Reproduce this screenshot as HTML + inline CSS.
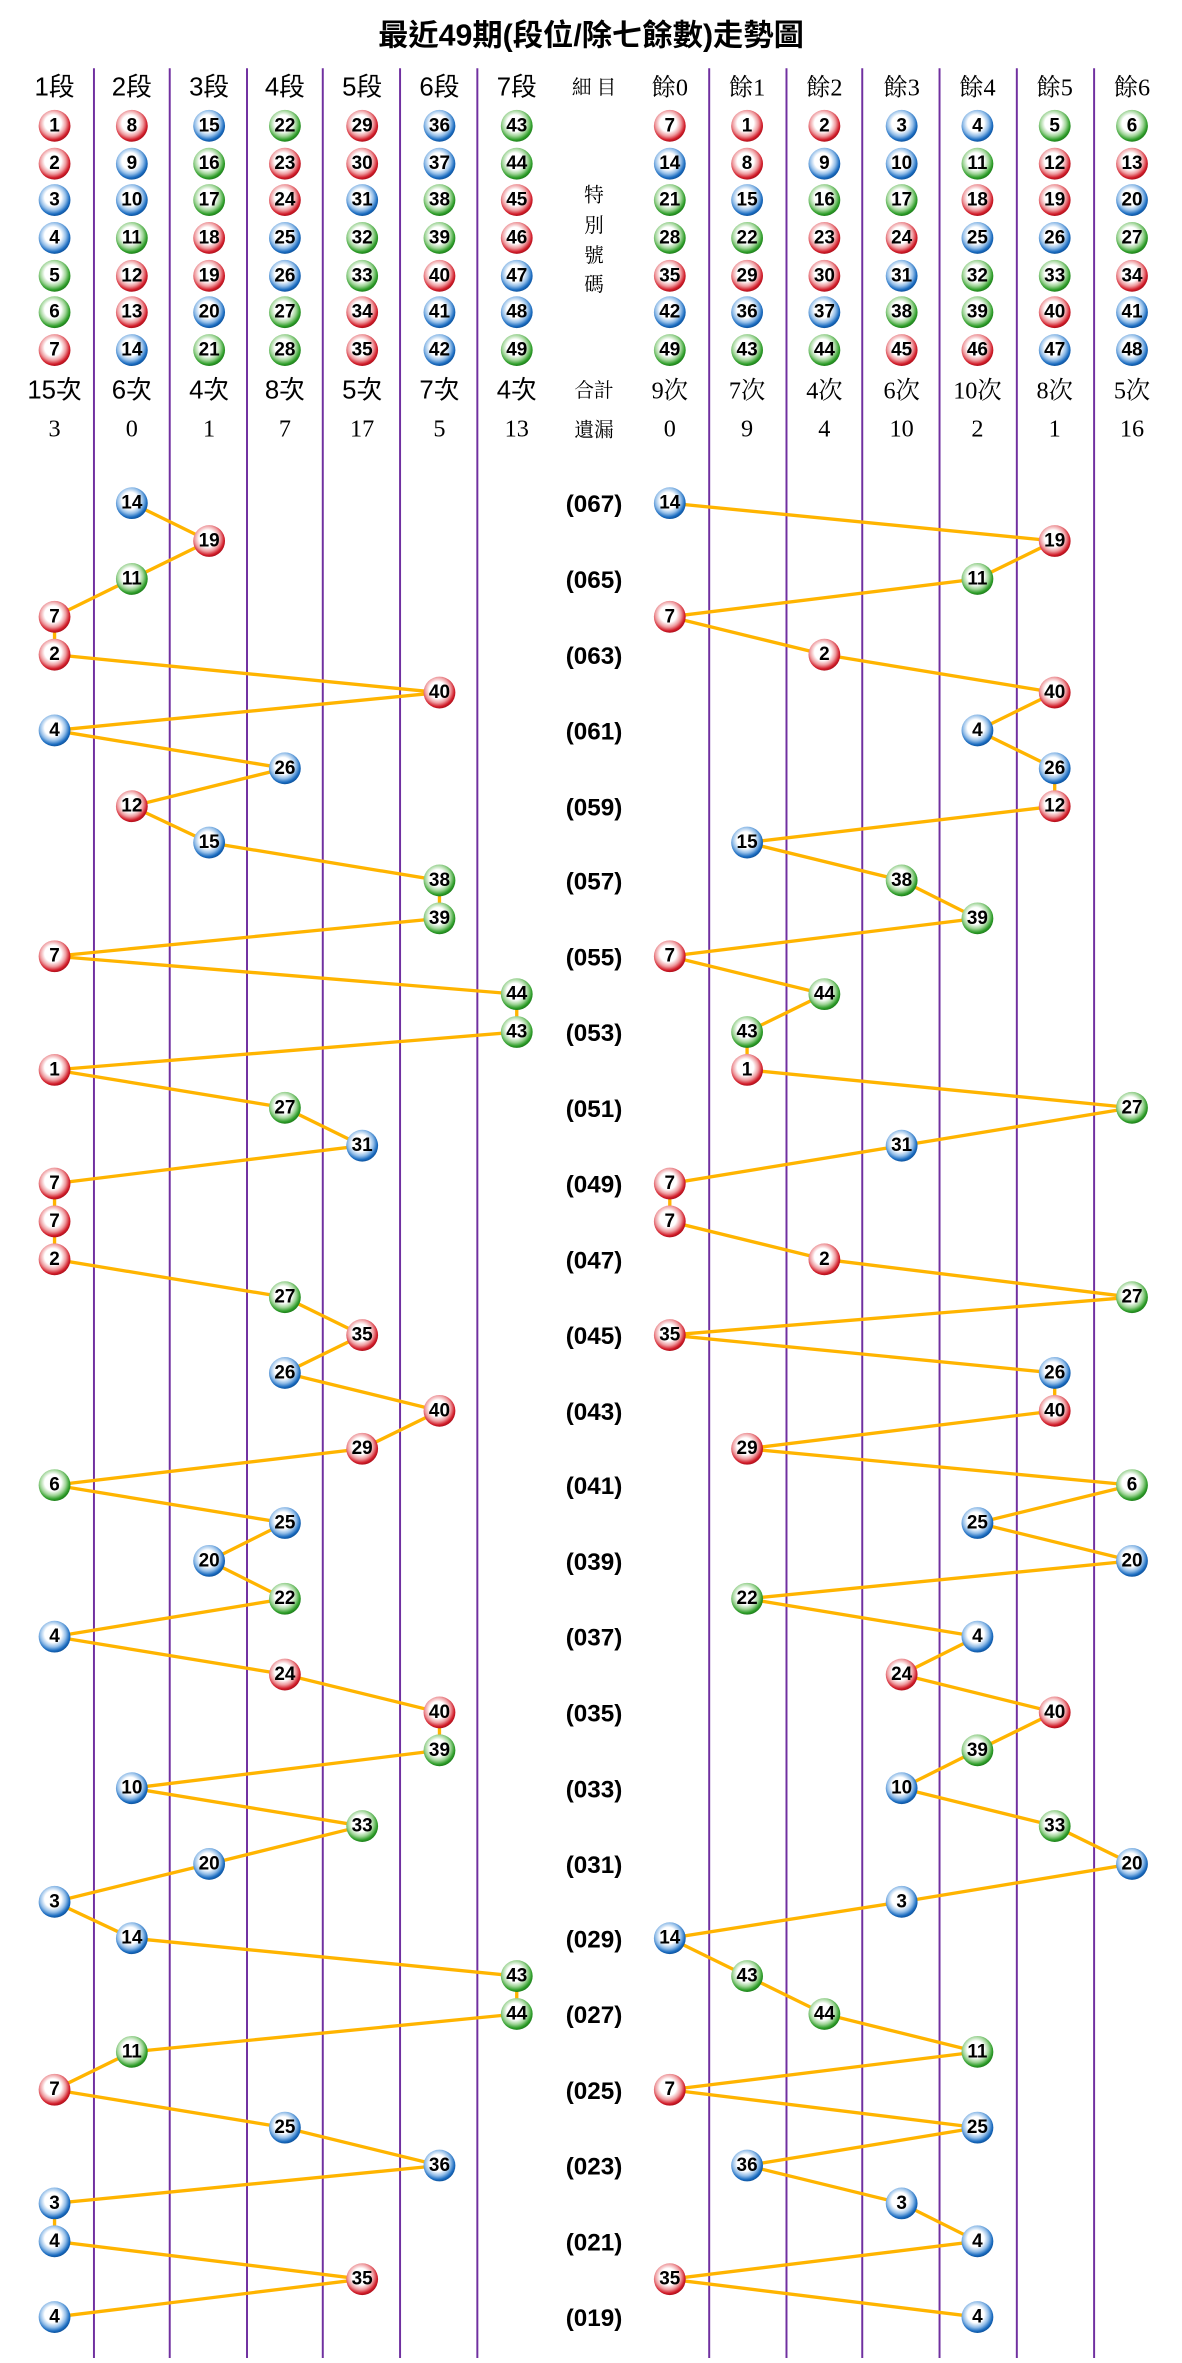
<!DOCTYPE html>
<html><head><meta charset="utf-8"><style>
html,body{margin:0;padding:0;background:#fff;}
svg{display:block;}
.b text{font-family:"Liberation Sans",sans-serif;font-weight:bold;font-size:12.5px;text-anchor:middle;dominant-baseline:central;fill:#000;}
.b circle{r:10.5px;}
.r{fill:url(#gr);} .u{fill:url(#gb);} .g{fill:url(#gg);}
.h{font-family:"Liberation Sans","Noto Sans CJK TC",sans-serif;font-size:17px;text-anchor:middle;fill:#000;}
.s{font-family:"Liberation Serif","Noto Serif CJK SC",serif;font-size:16px;text-anchor:middle;fill:#000;}
.m{font-family:"Liberation Serif","Noto Serif CJK SC",serif;font-size:13px;text-anchor:middle;fill:#000;}
.l{font-family:"Liberation Sans",sans-serif;font-weight:bold;font-size:16px;text-anchor:middle;fill:#000;}
</style></head><body>
<svg width="1182" height="2363" viewBox="0 0 780 1559.3" xmlns="http://www.w3.org/2000/svg">
<defs>
<radialGradient id="gr" cx="45%" cy="42%" r="58%"><stop offset="0.45" stop-color="#fff"/><stop offset="0.7" stop-color="#ee9a9e"/><stop offset="0.9" stop-color="#d21e2b"/><stop offset="1" stop-color="#b0101c"/></radialGradient>
<radialGradient id="gb" cx="45%" cy="42%" r="58%"><stop offset="0.45" stop-color="#fff"/><stop offset="0.7" stop-color="#92bde8"/><stop offset="0.9" stop-color="#1b6cc0"/><stop offset="1" stop-color="#0f55a0"/></radialGradient>
<radialGradient id="gg" cx="45%" cy="42%" r="58%"><stop offset="0.45" stop-color="#fff"/><stop offset="0.7" stop-color="#9ed496"/><stop offset="0.9" stop-color="#2f9e2a"/><stop offset="1" stop-color="#1f801c"/></radialGradient>
</defs>
<text x="390" y="30" font-family="Liberation Sans,Noto Sans CJK TC,sans-serif" font-size="20" font-weight="bold" text-anchor="middle">最近49期(段位/除七餘數)走勢圖</text>
<g stroke="#7030a0" stroke-width="1.3">
<line x1="62" y1="45" x2="62" y2="1556"/><line x1="112" y1="45" x2="112" y2="1556"/><line x1="163" y1="45" x2="163" y2="1556"/><line x1="213" y1="45" x2="213" y2="1556"/><line x1="264" y1="45" x2="264" y2="1556"/><line x1="315" y1="45" x2="315" y2="1556"/>
<line x1="468" y1="45" x2="468" y2="1556"/><line x1="519" y1="45" x2="519" y2="1556"/><line x1="569" y1="45" x2="569" y2="1556"/><line x1="620" y1="45" x2="620" y2="1556"/><line x1="671" y1="45" x2="671" y2="1556"/><line x1="722" y1="45" x2="722" y2="1556"/>
</g>
<g class="h">
<text x="36" y="63">1段</text><text x="87" y="63">2段</text><text x="138" y="63">3段</text><text x="188" y="63">4段</text><text x="239" y="63">5段</text><text x="290" y="63">6段</text><text x="341" y="63">7段</text>
<text x="36" y="263">15次</text><text x="87" y="263">6次</text><text x="138" y="263">4次</text><text x="188" y="263">8次</text><text x="239" y="263">5次</text><text x="290" y="263">7次</text><text x="341" y="263">4次</text>
</g>
<g class="s">
<text x="36" y="288">3</text><text x="87" y="288">0</text><text x="138" y="288">1</text><text x="188" y="288">7</text><text x="239" y="288">17</text><text x="290" y="288">5</text><text x="341" y="288">13</text>
<text x="442" y="63">餘0</text><text x="493" y="63">餘1</text><text x="544" y="63">餘2</text><text x="595" y="63">餘3</text><text x="645" y="63">餘4</text><text x="696" y="63">餘5</text><text x="747" y="63">餘6</text>
<text x="442" y="263">9次</text><text x="493" y="263">7次</text><text x="544" y="263">4次</text><text x="595" y="263">6次</text><text x="645" y="263">10次</text><text x="696" y="263">8次</text><text x="747" y="263">5次</text>
<text x="442" y="288">0</text><text x="493" y="288">9</text><text x="544" y="288">4</text><text x="595" y="288">10</text><text x="645" y="288">2</text><text x="696" y="288">1</text><text x="747" y="288">16</text>
</g>
<g class="m">
<text x="392" y="62">細 目</text>
<text x="392" y="133">特</text><text x="392" y="153">別</text><text x="392" y="173">號</text><text x="392" y="192">碼</text>
<text x="392" y="262">合計</text><text x="392" y="288">遺漏</text>
</g>
<g class="l">
<text x="392" y="338">(067)</text><text x="392" y="388">(065)</text><text x="392" y="438">(063)</text><text x="392" y="488">(061)</text><text x="392" y="538">(059)</text><text x="392" y="587">(057)</text><text x="392" y="637">(055)</text><text x="392" y="687">(053)</text><text x="392" y="737">(051)</text><text x="392" y="787">(049)</text><text x="392" y="837">(047)</text><text x="392" y="887">(045)</text><text x="392" y="937">(043)</text><text x="392" y="986">(041)</text><text x="392" y="1036">(039)</text><text x="392" y="1086">(037)</text><text x="392" y="1136">(035)</text><text x="392" y="1186">(033)</text><text x="392" y="1236">(031)</text><text x="392" y="1285">(029)</text><text x="392" y="1335">(027)</text><text x="392" y="1385">(025)</text><text x="392" y="1435">(023)</text><text x="392" y="1485">(021)</text><text x="392" y="1535">(019)</text>
</g>
<g fill="none" stroke="#ffb400" stroke-width="2.2">
<polyline points="87,332 138,357 87,382 36,407 36,432 290,457 36,482 188,507 87,532 138,556 290,581 290,606 36,631 341,656 341,681 36,706 188,731 239,756 36,781 36,806 36,831 188,856 239,881 188,906 290,931 239,956 36,980 188,1005 138,1030 188,1055 36,1080 188,1105 290,1130 290,1155 87,1180 239,1205 138,1230 36,1255 87,1279 341,1304 341,1329 87,1354 36,1379 188,1404 290,1429 36,1454 36,1479 239,1504 36,1529"/>
<polyline points="442,332 696,357 645,382 442,407 544,432 696,457 645,482 696,507 696,532 493,556 595,581 645,606 442,631 544,656 493,681 493,706 747,731 595,756 442,781 442,806 544,831 747,856 442,881 696,906 696,931 493,956 747,980 645,1005 747,1030 493,1055 645,1080 595,1105 696,1130 645,1155 595,1180 696,1205 747,1230 595,1255 442,1279 493,1304 544,1329 645,1354 442,1379 645,1404 493,1429 595,1454 645,1479 442,1504 645,1529"/>
</g>
<g class="b">
<circle class="r" cx="36" cy="83"/><text x="36" y="83">1</text><circle class="r" cx="36" cy="108"/><text x="36" y="108">2</text><circle class="u" cx="36" cy="132"/><text x="36" y="132">3</text><circle class="u" cx="36" cy="157"/><text x="36" y="157">4</text><circle class="g" cx="36" cy="182"/><text x="36" y="182">5</text><circle class="g" cx="36" cy="206"/><text x="36" y="206">6</text><circle class="r" cx="36" cy="231"/><text x="36" y="231">7</text>
<circle class="r" cx="87" cy="83"/><text x="87" y="83">8</text><circle class="u" cx="87" cy="108"/><text x="87" y="108">9</text><circle class="u" cx="87" cy="132"/><text x="87" y="132">10</text><circle class="g" cx="87" cy="157"/><text x="87" y="157">11</text><circle class="r" cx="87" cy="182"/><text x="87" y="182">12</text><circle class="r" cx="87" cy="206"/><text x="87" y="206">13</text><circle class="u" cx="87" cy="231"/><text x="87" y="231">14</text>
<circle class="u" cx="138" cy="83"/><text x="138" y="83">15</text><circle class="g" cx="138" cy="108"/><text x="138" y="108">16</text><circle class="g" cx="138" cy="132"/><text x="138" y="132">17</text><circle class="r" cx="138" cy="157"/><text x="138" y="157">18</text><circle class="r" cx="138" cy="182"/><text x="138" y="182">19</text><circle class="u" cx="138" cy="206"/><text x="138" y="206">20</text><circle class="g" cx="138" cy="231"/><text x="138" y="231">21</text>
<circle class="g" cx="188" cy="83"/><text x="188" y="83">22</text><circle class="r" cx="188" cy="108"/><text x="188" y="108">23</text><circle class="r" cx="188" cy="132"/><text x="188" y="132">24</text><circle class="u" cx="188" cy="157"/><text x="188" y="157">25</text><circle class="u" cx="188" cy="182"/><text x="188" y="182">26</text><circle class="g" cx="188" cy="206"/><text x="188" y="206">27</text><circle class="g" cx="188" cy="231"/><text x="188" y="231">28</text>
<circle class="r" cx="239" cy="83"/><text x="239" y="83">29</text><circle class="r" cx="239" cy="108"/><text x="239" y="108">30</text><circle class="u" cx="239" cy="132"/><text x="239" y="132">31</text><circle class="g" cx="239" cy="157"/><text x="239" y="157">32</text><circle class="g" cx="239" cy="182"/><text x="239" y="182">33</text><circle class="r" cx="239" cy="206"/><text x="239" y="206">34</text><circle class="r" cx="239" cy="231"/><text x="239" y="231">35</text>
<circle class="u" cx="290" cy="83"/><text x="290" y="83">36</text><circle class="u" cx="290" cy="108"/><text x="290" y="108">37</text><circle class="g" cx="290" cy="132"/><text x="290" y="132">38</text><circle class="g" cx="290" cy="157"/><text x="290" y="157">39</text><circle class="r" cx="290" cy="182"/><text x="290" y="182">40</text><circle class="u" cx="290" cy="206"/><text x="290" y="206">41</text><circle class="u" cx="290" cy="231"/><text x="290" y="231">42</text>
<circle class="g" cx="341" cy="83"/><text x="341" y="83">43</text><circle class="g" cx="341" cy="108"/><text x="341" y="108">44</text><circle class="r" cx="341" cy="132"/><text x="341" y="132">45</text><circle class="r" cx="341" cy="157"/><text x="341" y="157">46</text><circle class="u" cx="341" cy="182"/><text x="341" y="182">47</text><circle class="u" cx="341" cy="206"/><text x="341" y="206">48</text><circle class="g" cx="341" cy="231"/><text x="341" y="231">49</text>
<circle class="r" cx="442" cy="83"/><text x="442" y="83">7</text><circle class="u" cx="442" cy="108"/><text x="442" y="108">14</text><circle class="g" cx="442" cy="132"/><text x="442" y="132">21</text><circle class="g" cx="442" cy="157"/><text x="442" y="157">28</text><circle class="r" cx="442" cy="182"/><text x="442" y="182">35</text><circle class="u" cx="442" cy="206"/><text x="442" y="206">42</text><circle class="g" cx="442" cy="231"/><text x="442" y="231">49</text>
<circle class="r" cx="493" cy="83"/><text x="493" y="83">1</text><circle class="r" cx="493" cy="108"/><text x="493" y="108">8</text><circle class="u" cx="493" cy="132"/><text x="493" y="132">15</text><circle class="g" cx="493" cy="157"/><text x="493" y="157">22</text><circle class="r" cx="493" cy="182"/><text x="493" y="182">29</text><circle class="u" cx="493" cy="206"/><text x="493" y="206">36</text><circle class="g" cx="493" cy="231"/><text x="493" y="231">43</text>
<circle class="r" cx="544" cy="83"/><text x="544" y="83">2</text><circle class="u" cx="544" cy="108"/><text x="544" y="108">9</text><circle class="g" cx="544" cy="132"/><text x="544" y="132">16</text><circle class="r" cx="544" cy="157"/><text x="544" y="157">23</text><circle class="r" cx="544" cy="182"/><text x="544" y="182">30</text><circle class="u" cx="544" cy="206"/><text x="544" y="206">37</text><circle class="g" cx="544" cy="231"/><text x="544" y="231">44</text>
<circle class="u" cx="595" cy="83"/><text x="595" y="83">3</text><circle class="u" cx="595" cy="108"/><text x="595" y="108">10</text><circle class="g" cx="595" cy="132"/><text x="595" y="132">17</text><circle class="r" cx="595" cy="157"/><text x="595" y="157">24</text><circle class="u" cx="595" cy="182"/><text x="595" y="182">31</text><circle class="g" cx="595" cy="206"/><text x="595" y="206">38</text><circle class="r" cx="595" cy="231"/><text x="595" y="231">45</text>
<circle class="u" cx="645" cy="83"/><text x="645" y="83">4</text><circle class="g" cx="645" cy="108"/><text x="645" y="108">11</text><circle class="r" cx="645" cy="132"/><text x="645" y="132">18</text><circle class="u" cx="645" cy="157"/><text x="645" y="157">25</text><circle class="g" cx="645" cy="182"/><text x="645" y="182">32</text><circle class="g" cx="645" cy="206"/><text x="645" y="206">39</text><circle class="r" cx="645" cy="231"/><text x="645" y="231">46</text>
<circle class="g" cx="696" cy="83"/><text x="696" y="83">5</text><circle class="r" cx="696" cy="108"/><text x="696" y="108">12</text><circle class="r" cx="696" cy="132"/><text x="696" y="132">19</text><circle class="u" cx="696" cy="157"/><text x="696" y="157">26</text><circle class="g" cx="696" cy="182"/><text x="696" y="182">33</text><circle class="r" cx="696" cy="206"/><text x="696" y="206">40</text><circle class="u" cx="696" cy="231"/><text x="696" y="231">47</text>
<circle class="g" cx="747" cy="83"/><text x="747" y="83">6</text><circle class="r" cx="747" cy="108"/><text x="747" y="108">13</text><circle class="u" cx="747" cy="132"/><text x="747" y="132">20</text><circle class="g" cx="747" cy="157"/><text x="747" y="157">27</text><circle class="r" cx="747" cy="182"/><text x="747" y="182">34</text><circle class="u" cx="747" cy="206"/><text x="747" y="206">41</text><circle class="u" cx="747" cy="231"/><text x="747" y="231">48</text>

<circle class="u" cx="87" cy="332"/><text x="87" y="332">14</text><circle class="u" cx="442" cy="332"/><text x="442" y="332">14</text>
<circle class="r" cx="138" cy="357"/><text x="138" y="357">19</text><circle class="r" cx="696" cy="357"/><text x="696" y="357">19</text>
<circle class="g" cx="87" cy="382"/><text x="87" y="382">11</text><circle class="g" cx="645" cy="382"/><text x="645" y="382">11</text>
<circle class="r" cx="36" cy="407"/><text x="36" y="407">7</text><circle class="r" cx="442" cy="407"/><text x="442" y="407">7</text>
<circle class="r" cx="36" cy="432"/><text x="36" y="432">2</text><circle class="r" cx="544" cy="432"/><text x="544" y="432">2</text>
<circle class="r" cx="290" cy="457"/><text x="290" y="457">40</text><circle class="r" cx="696" cy="457"/><text x="696" y="457">40</text>
<circle class="u" cx="36" cy="482"/><text x="36" y="482">4</text><circle class="u" cx="645" cy="482"/><text x="645" y="482">4</text>
<circle class="u" cx="188" cy="507"/><text x="188" y="507">26</text><circle class="u" cx="696" cy="507"/><text x="696" y="507">26</text>
<circle class="r" cx="87" cy="532"/><text x="87" y="532">12</text><circle class="r" cx="696" cy="532"/><text x="696" y="532">12</text>
<circle class="u" cx="138" cy="556"/><text x="138" y="556">15</text><circle class="u" cx="493" cy="556"/><text x="493" y="556">15</text>
<circle class="g" cx="290" cy="581"/><text x="290" y="581">38</text><circle class="g" cx="595" cy="581"/><text x="595" y="581">38</text>
<circle class="g" cx="290" cy="606"/><text x="290" y="606">39</text><circle class="g" cx="645" cy="606"/><text x="645" y="606">39</text>
<circle class="r" cx="36" cy="631"/><text x="36" y="631">7</text><circle class="r" cx="442" cy="631"/><text x="442" y="631">7</text>
<circle class="g" cx="341" cy="656"/><text x="341" y="656">44</text><circle class="g" cx="544" cy="656"/><text x="544" y="656">44</text>
<circle class="g" cx="341" cy="681"/><text x="341" y="681">43</text><circle class="g" cx="493" cy="681"/><text x="493" y="681">43</text>
<circle class="r" cx="36" cy="706"/><text x="36" y="706">1</text><circle class="r" cx="493" cy="706"/><text x="493" y="706">1</text>
<circle class="g" cx="188" cy="731"/><text x="188" y="731">27</text><circle class="g" cx="747" cy="731"/><text x="747" y="731">27</text>
<circle class="u" cx="239" cy="756"/><text x="239" y="756">31</text><circle class="u" cx="595" cy="756"/><text x="595" y="756">31</text>
<circle class="r" cx="36" cy="781"/><text x="36" y="781">7</text><circle class="r" cx="442" cy="781"/><text x="442" y="781">7</text>
<circle class="r" cx="36" cy="806"/><text x="36" y="806">7</text><circle class="r" cx="442" cy="806"/><text x="442" y="806">7</text>
<circle class="r" cx="36" cy="831"/><text x="36" y="831">2</text><circle class="r" cx="544" cy="831"/><text x="544" y="831">2</text>
<circle class="g" cx="188" cy="856"/><text x="188" y="856">27</text><circle class="g" cx="747" cy="856"/><text x="747" y="856">27</text>
<circle class="r" cx="239" cy="881"/><text x="239" y="881">35</text><circle class="r" cx="442" cy="881"/><text x="442" y="881">35</text>
<circle class="u" cx="188" cy="906"/><text x="188" y="906">26</text><circle class="u" cx="696" cy="906"/><text x="696" y="906">26</text>
<circle class="r" cx="290" cy="931"/><text x="290" y="931">40</text><circle class="r" cx="696" cy="931"/><text x="696" y="931">40</text>
<circle class="r" cx="239" cy="956"/><text x="239" y="956">29</text><circle class="r" cx="493" cy="956"/><text x="493" y="956">29</text>
<circle class="g" cx="36" cy="980"/><text x="36" y="980">6</text><circle class="g" cx="747" cy="980"/><text x="747" y="980">6</text>
<circle class="u" cx="188" cy="1005"/><text x="188" y="1005">25</text><circle class="u" cx="645" cy="1005"/><text x="645" y="1005">25</text>
<circle class="u" cx="138" cy="1030"/><text x="138" y="1030">20</text><circle class="u" cx="747" cy="1030"/><text x="747" y="1030">20</text>
<circle class="g" cx="188" cy="1055"/><text x="188" y="1055">22</text><circle class="g" cx="493" cy="1055"/><text x="493" y="1055">22</text>
<circle class="u" cx="36" cy="1080"/><text x="36" y="1080">4</text><circle class="u" cx="645" cy="1080"/><text x="645" y="1080">4</text>
<circle class="r" cx="188" cy="1105"/><text x="188" y="1105">24</text><circle class="r" cx="595" cy="1105"/><text x="595" y="1105">24</text>
<circle class="r" cx="290" cy="1130"/><text x="290" y="1130">40</text><circle class="r" cx="696" cy="1130"/><text x="696" y="1130">40</text>
<circle class="g" cx="290" cy="1155"/><text x="290" y="1155">39</text><circle class="g" cx="645" cy="1155"/><text x="645" y="1155">39</text>
<circle class="u" cx="87" cy="1180"/><text x="87" y="1180">10</text><circle class="u" cx="595" cy="1180"/><text x="595" y="1180">10</text>
<circle class="g" cx="239" cy="1205"/><text x="239" y="1205">33</text><circle class="g" cx="696" cy="1205"/><text x="696" y="1205">33</text>
<circle class="u" cx="138" cy="1230"/><text x="138" y="1230">20</text><circle class="u" cx="747" cy="1230"/><text x="747" y="1230">20</text>
<circle class="u" cx="36" cy="1255"/><text x="36" y="1255">3</text><circle class="u" cx="595" cy="1255"/><text x="595" y="1255">3</text>
<circle class="u" cx="87" cy="1279"/><text x="87" y="1279">14</text><circle class="u" cx="442" cy="1279"/><text x="442" y="1279">14</text>
<circle class="g" cx="341" cy="1304"/><text x="341" y="1304">43</text><circle class="g" cx="493" cy="1304"/><text x="493" y="1304">43</text>
<circle class="g" cx="341" cy="1329"/><text x="341" y="1329">44</text><circle class="g" cx="544" cy="1329"/><text x="544" y="1329">44</text>
<circle class="g" cx="87" cy="1354"/><text x="87" y="1354">11</text><circle class="g" cx="645" cy="1354"/><text x="645" y="1354">11</text>
<circle class="r" cx="36" cy="1379"/><text x="36" y="1379">7</text><circle class="r" cx="442" cy="1379"/><text x="442" y="1379">7</text>
<circle class="u" cx="188" cy="1404"/><text x="188" y="1404">25</text><circle class="u" cx="645" cy="1404"/><text x="645" y="1404">25</text>
<circle class="u" cx="290" cy="1429"/><text x="290" y="1429">36</text><circle class="u" cx="493" cy="1429"/><text x="493" y="1429">36</text>
<circle class="u" cx="36" cy="1454"/><text x="36" y="1454">3</text><circle class="u" cx="595" cy="1454"/><text x="595" y="1454">3</text>
<circle class="u" cx="36" cy="1479"/><text x="36" y="1479">4</text><circle class="u" cx="645" cy="1479"/><text x="645" y="1479">4</text>
<circle class="r" cx="239" cy="1504"/><text x="239" y="1504">35</text><circle class="r" cx="442" cy="1504"/><text x="442" y="1504">35</text>
<circle class="u" cx="36" cy="1529"/><text x="36" y="1529">4</text><circle class="u" cx="645" cy="1529"/><text x="645" y="1529">4</text>
</g>
</svg>
</body></html>
